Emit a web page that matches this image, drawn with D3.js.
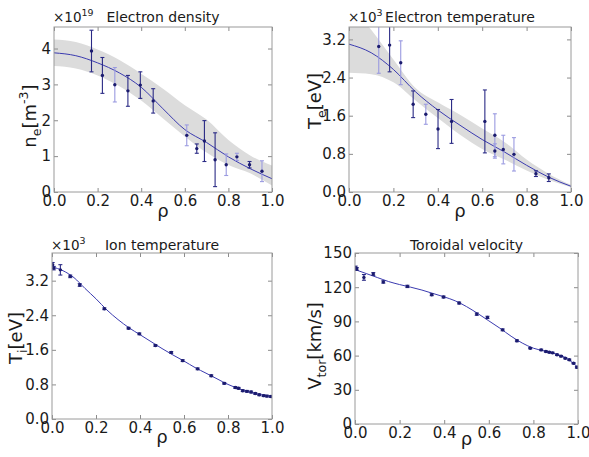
<!DOCTYPE html>
<html>
<head>
<meta charset="utf-8">
<script src="https://cdn.jsdelivr.net/npm/d3@7"></script>
<style>
  body { margin: 0; background: #fff; }
  text { font-family: "DejaVu Sans", sans-serif; fill: #1a1a1a; }
</style>
</head>
<body>
<div id="box-div"></div>
<script>
// - data
const xTicks = [0, 0.2, 0.4, 0.6, 0.8, 1.0]

// electron density (x10^19 m^-3)
const neRho = [0.172, 0.222, 0.279, 0.339, 0.396, 0.455, 0.609, 0.655, 0.690, 0.739, 0.790, 0.839, 0.897, 0.954]
const neVal = [3.93, 3.25, 2.99, 2.82, 2.98, 2.54, 1.58, 1.21, 1.42, 0.90, 0.76, 0.98, 0.76, 0.58]
const neErr = [0.58, 0.50, 0.48, 0.43, 0.37, 0.34, 0.29, 0.13, 0.57, 0.75, 0.30, 0.10, 0.09, 0.29]
const neDark = [1, 1, 0, 1, 1, 1, 0, 1, 1, 1, 0, 0, 1, 0]
const neFitRho = [0, 0.1, 0.2, 0.3, 0.4, 0.5, 0.6, 0.7, 0.8, 0.9, 1.0]
const neFit = [3.88, 3.80, 3.60, 3.32, 2.92, 2.32, 1.74, 1.38, 0.98, 0.65, 0.37]
const neUpper = [4.25, 4.18, 3.97, 3.68, 3.30, 2.88, 2.42, 2.02, 1.45, 1.02, 0.74]
const neLower = [3.51, 3.44, 3.25, 2.95, 2.55, 2.05, 1.55, 1.10, 0.75, 0.52, 0.18]
const neYTicks = [0, 1, 2, 3, 4]

// electron temperature (x10^3 eV)
const teRho = [0.134, 0.183, 0.233, 0.289, 0.346, 0.401, 0.462, 0.612, 0.657, 0.657, 0.695, 0.743, 0.842, 0.900]
const teVal = [3.05, 3.08, 2.71, 1.84, 1.63, 1.32, 1.48, 1.48, 1.19, 0.86, 0.89, 0.79, 0.385, 0.30]
const teErr = [0.56, 0.56, 0.46, 0.28, 0.21, 0.41, 0.46, 0.66, 0.45, 0.15, 0.30, 0.35, 0.06, 0.08]
const teDark = [0, 1, 0, 1, 0, 1, 1, 1, 0, 0, 0, 0, 1, 1]
const teFitRho = [0, 0.1, 0.2, 0.3, 0.4, 0.5, 0.6, 0.7, 0.8, 0.9, 1.0]
const teFit = [3.10, 2.92, 2.57, 2.10, 1.72, 1.40, 1.10, 0.84, 0.56, 0.31, 0.12]
const teUpper = [3.95, 3.40, 2.78, 2.18, 1.88, 1.62, 1.33, 1.05, 0.68, 0.38, 0.15]
const teLower = [2.50, 2.47, 2.30, 1.92, 1.55, 1.20, 0.90, 0.68, 0.45, 0.25, 0.10]
const teYTicks = [0, 0.8, 1.6, 2.4, 3.2]

// ion temperature (x10^3 eV)
const tiRho = [0.003, 0.008, 0.038, 0.083, 0.126, 0.238, 0.348, 0.397, 0.470, 0.542, 0.594, 0.662, 0.724, 0.783, 0.833, 0.848, 0.867, 0.886, 0.905, 0.924, 0.942, 0.962, 0.977, 0.995]
const tiVal = [3.57, 3.49, 3.45, 3.30, 3.10, 2.55, 2.10, 1.97, 1.70, 1.54, 1.35, 1.16, 1.00, 0.825, 0.73, 0.71, 0.655, 0.64, 0.625, 0.59, 0.56, 0.54, 0.53, 0.52]
const tiErr = [0.05, 0.04, 0.12, 0.03, 0.03, 0.02, 0.02, 0.02, 0.02, 0.02, 0.02, 0.02, 0.02, 0.02, 0.02, 0.02, 0.02, 0.02, 0.02, 0.02, 0.02, 0.02, 0.02, 0.02]
const tiFitRho = [0, 0.05, 0.1, 0.15, 0.2, 0.25, 0.3, 0.35, 0.4, 0.45, 0.5, 0.55, 0.6, 0.65, 0.7, 0.75, 0.8, 0.85, 0.9, 0.95, 1.0]
const tiFit = [3.52, 3.43, 3.27, 3.02, 2.78, 2.52, 2.30, 2.11, 1.95, 1.79, 1.63, 1.48, 1.34, 1.19, 1.06, 0.93, 0.80, 0.70, 0.62, 0.56, 0.52]
const tiYTicks = [0, 0.8, 1.6, 2.4, 3.2]

// toroidal velocity (km/s)
const vtRho = [0.003, 0.008, 0.040, 0.082, 0.127, 0.235, 0.344, 0.397, 0.467, 0.546, 0.594, 0.662, 0.726, 0.786, 0.835, 0.856, 0.871, 0.886, 0.906, 0.924, 0.943, 0.961, 0.980, 0.995]
const vtVal = [137.0, 136.0, 128.6, 131.6, 124.6, 120.7, 113.4, 111.4, 106.1, 96.4, 93.5, 82.6, 73.0, 66.5, 65.0, 63.6, 63.0, 62.4, 60.7, 59.5, 57.7, 56.3, 53.3, 49.8]
const vtErr = [1.5, 1.2, 2.5, 1.2, 1.0, 1.0, 0.8, 0.8, 0.8, 1.0, 1.0, 0.8, 0.8, 0.6, 0.6, 0.6, 0.6, 0.6, 0.6, 0.6, 0.6, 0.6, 0.6, 0.8]
const vtFitRho = [0, 0.05, 0.1, 0.15, 0.2, 0.25, 0.3, 0.35, 0.4, 0.45, 0.5, 0.55, 0.6, 0.65, 0.7, 0.75, 0.8, 0.85, 0.9, 0.95, 1.0]
const vtFit = [135.5, 132, 128.5, 125, 122.3, 120, 117.5, 114.5, 111.5, 108, 103, 97, 90.5, 84, 77, 71, 66.5, 64, 61.5, 57.5, 49.5]
const vtYTicks = [0, 30, 60, 90, 120, 150]

// - layout
const dms = { width: 589, height: 457 }

const svg = d3.select('#box-div')
  .append('svg')
  .attr('width', dms.width)
  .attr('height', dms.height)

const lineColor = '#3b3bb0'
const markColor = '#1b1b6e'
const lightBar = '#9a9ae0'

const panels = [
  {
    left: 54, right: 272, top: 27, bottom: 192, ymax: 4.6, yTicks: neYTicks, fmt: d3.format('d'),
    title: 'Electron density', mult: '19', titleY: 22, labelX: 36, labelY: 116, rhoY: 217,
    ylabel: [['n'], ['e', 'sub'], ['[m'], ['-3', 'sup'], [']']],
    rho: neRho, val: neVal, err: neErr, dark: neDark,
    fitRho: neFitRho, fit: neFit, upper: neUpper, lower: neLower,
  },
  {
    left: 349, right: 571, top: 27, bottom: 192, ymax: 3.46, yTicks: teYTicks, fmt: d3.format('.1f'),
    title: 'Electron temperature', mult: '3', titleY: 22, labelX: 321, labelY: 101, rhoY: 217,
    ylabel: [['T'], ['e', 'sub'], ['[eV]']],
    rho: teRho, val: teVal, err: teErr, dark: teDark,
    fitRho: teFitRho, fit: teFit, upper: teUpper, lower: teLower,
  },
  {
    left: 52, right: 272, top: 253, bottom: 419, ymax: 3.84, yTicks: tiYTicks, fmt: d3.format('.1f'),
    title: 'Ion temperature', mult: '3', titleY: 250, labelX: 22, labelY: 338, rhoY: 443,
    ylabel: [['T'], ['i', 'sub'], ['[eV]']],
    rho: tiRho, val: tiVal, err: tiErr, dark: tiRho.map(() => 1),
    fitRho: tiFitRho, fit: tiFit,
  },
  {
    left: 355, right: 578, top: 253, bottom: 424, ymax: 150, yTicks: vtYTicks, fmt: d3.format('d'),
    title: 'Toroidal velocity', mult: null, titleY: 250, labelX: 321, labelY: 346, rhoY: 445,
    ylabel: [['V'], ['tor', 'sub'], ['[km/s]']],
    rho: vtRho, val: vtVal, err: vtErr, dark: vtRho.map(() => 1),
    fitRho: vtFitRho, fit: vtFit,
  },
]

// mathtext-like label with sub/superscripts
function richText(sel, parts, size) {
  let shift = 0
  parts.forEach(([t, kind]) => {
    const target = kind === 'sub' ? size * 0.25 : kind === 'sup' ? -size * 0.45 : 0
    sel.append('tspan')
      .attr('dy', target - shift)
      .style('font-size', (kind ? size * 0.7 : size) + 'px')
      .text(t)
    shift = target
  })
}

function drawPanel(p, i) {
  const g = svg.append('g').attr('id', 'panel-' + i)

  const x = d3.scaleLinear().domain([0, 1]).range([p.left, p.right])
  const y = d3.scaleLinear().domain([0, p.ymax]).range([p.bottom, p.top])

  const clipId = 'clip-' + i
  g.append('clipPath').attr('id', clipId)
    .append('rect')
    .attr('x', p.left).attr('y', p.top)
    .attr('width', p.right - p.left).attr('height', p.bottom - p.top)

  const plot = g.append('g').attr('clip-path', `url(#${clipId})`)

  // confidence band
  if (p.upper) {
    const area = d3.area()
      .x((d, k) => x(p.fitRho[k]))
      .y0((d, k) => y(p.lower[k]))
      .y1((d, k) => y(p.upper[k]))
      .curve(d3.curveMonotoneX)
    plot.append('path')
      .attr('d', area(p.fitRho))
      .attr('fill', '#dcdcdc')
  }

  // fitted profile
  const line = d3.line()
    .x((d, k) => x(p.fitRho[k]))
    .y((d, k) => y(p.fit[k]))
    .curve(d3.curveMonotoneX)
  plot.append('path')
    .attr('d', line(p.fitRho))
    .attr('fill', 'none')
    .attr('stroke', lineColor)
    .attr('stroke-width', 1)

  // error bars
  const bars = plot.append('g').selectAll('g')
    .data(p.rho.map((r, k) => ({ r, v: p.val[k], e: p.err[k], dark: p.dark[k] })))
    .join('g')
    .attr('stroke', d => d.dark ? '#2a2a85' : lightBar)
    .attr('stroke-width', 1.1)
  bars.append('line')
    .attr('x1', d => x(d.r)).attr('x2', d => x(d.r))
    .attr('y1', d => y(d.v - d.e)).attr('y2', d => y(d.v + d.e))
  bars.append('line')
    .attr('x1', d => x(d.r) - 2).attr('x2', d => x(d.r) + 2)
    .attr('y1', d => y(d.v + d.e)).attr('y2', d => y(d.v + d.e))
  bars.append('line')
    .attr('x1', d => x(d.r) - 2).attr('x2', d => x(d.r) + 2)
    .attr('y1', d => y(d.v - d.e)).attr('y2', d => y(d.v - d.e))

  // points
  plot.append('g').selectAll('circle')
    .data(p.rho)
    .join('circle')
    .attr('cx', d => x(d))
    .attr('cy', (d, k) => y(p.val[k]))
    .attr('r', 1.7)
    .attr('fill', markColor)

  // axes, ticks pointing inward on all four sides
  const axes = [
    [d3.axisBottom(x).tickValues(xTicks).tickFormat(d3.format('.1f')), `translate(0,${p.bottom})`],
    [d3.axisTop(x).tickValues(xTicks).tickFormat(''), `translate(0,${p.top})`],
    [d3.axisLeft(y).tickValues(p.yTicks).tickFormat(p.fmt), `translate(${p.left},0)`],
    [d3.axisRight(y).tickValues(p.yTicks).tickFormat(''), `translate(${p.right},0)`],
  ]
  axes.forEach(([ax, tr]) => {
    const a = g.append('g')
      .attr('transform', tr)
      .call(ax.tickSizeInner(-4).tickSizeOuter(0).tickPadding(3))
    a.select('.domain').remove()
    a.selectAll('.tick line').attr('stroke', '#8c8c8c')
    a.selectAll('.tick text')
      .attr('fill', '#1a1a1a')
      .style('font-family', '"DejaVu Sans", sans-serif')
      .style('font-size', '15px')
  })

  g.append('rect')
    .attr('x', p.left).attr('y', p.top)
    .attr('width', p.right - p.left).attr('height', p.bottom - p.top)
    .attr('fill', 'none')
    .attr('stroke', '#9a9a9a')
    .attr('stroke-width', 1)

  // title and offset multiplier
  g.append('text')
    .attr('x', (p.left + p.right) / 2)
    .attr('y', p.titleY)
    .attr('text-anchor', 'middle')
    .style('font-size', '14px')
    .text(p.title)

  if (p.mult) {
    const m = g.append('text')
      .attr('x', p.left - 1)
      .attr('y', p.titleY)
      .style('font-size', '13.5px')
    richText(m, [['×10'], [p.mult, 'sup']], 13.5)
  }

  // axis labels
  g.append('text')
    .attr('x', (p.left + p.right) / 2)
    .attr('y', p.rhoY)
    .attr('text-anchor', 'middle')
    .style('font-size', '18px')
    .text('ρ')

  const yl = g.append('text')
    .attr('transform', `translate(${p.labelX},${p.labelY}) rotate(-90)`)
    .attr('text-anchor', 'middle')
    .style('font-size', '18px')
  richText(yl, p.ylabel, 18)
}

panels.forEach(drawPanel)
</script>
</body>
</html>
